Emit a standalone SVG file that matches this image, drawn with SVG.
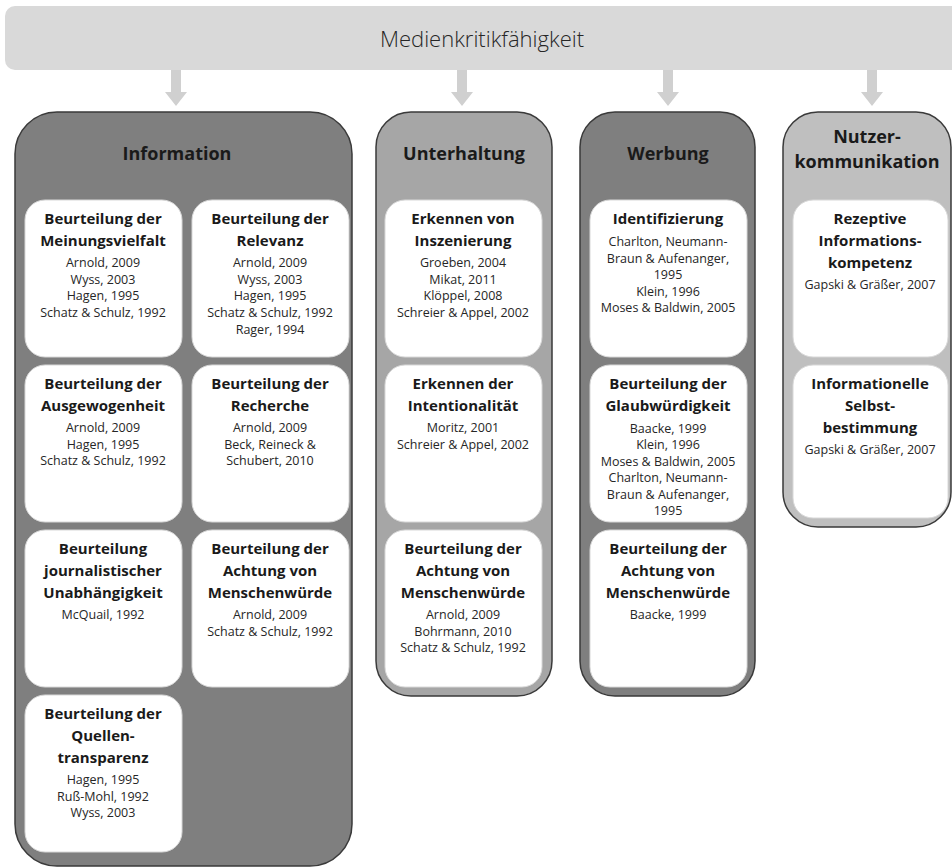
<svg xmlns="http://www.w3.org/2000/svg" width="952" height="868" viewBox="0 0 952 868">
<defs>
<style>
.banner{fill:#d9d9d9;}
.arrow{fill:#d0d0d0;}
.col{stroke:#3a3a3a;stroke-width:1.5;}
.dark{fill:#7f7f7f;}
.mid{fill:#a6a6a6;}
.light{fill:#bfbfbf;}
.box{fill:#ffffff;stroke:#d8d8d8;stroke-width:1;}
text{font-family:"Open Sans","Liberation Sans",sans-serif;text-anchor:middle;fill:#1a1a1a;}
.h{font-size:22px;font-weight:300;fill:#262626;}
.ct{font-size:18px;font-weight:bold;}
.t{font-size:15px;font-weight:bold;}
.r{font-size:12.5px;fill:#262626;}
</style>
</defs>
<rect x="0" y="0" width="952" height="868" fill="#ffffff"/>
<g id="banner">
<rect class="banner" x="5" y="6" width="960" height="64" rx="10"/>
<text class="h" x="482" y="47">Medienkritikfähigkeit</text>
</g>
<g id="connectors">
<polygon class="arrow" points="171,70 181,70 181,92 187,92 176,106 165,92 171,92"/>
<polygon class="arrow" points="457,70 467,70 467,92 473,92 462,106 451,92 457,92"/>
<polygon class="arrow" points="663,70 673,70 673,92 679,92 668,106 657,92 663,92"/>
<polygon class="arrow" points="867,70 877,70 877,92 883,92 872,106 861,92 867,92"/>
</g>
<g id="information">
<rect class="col dark" x="15" y="112" width="337" height="754" rx="42"/>
<text class="ct" x="177" y="160">Information</text>
</g>
<g id="info-meinungsvielfalt">
<rect class="box" x="25" y="200" width="157" height="157" rx="20"/>
<text class="t" x="103" y="224">Beurteilung der</text>
<text class="t" x="103" y="246">Meinungsvielfalt</text>
<text class="r" x="103" y="267">Arnold, 2009</text>
<text class="r" x="103" y="284">Wyss, 2003</text>
<text class="r" x="103" y="300">Hagen, 1995</text>
<text class="r" x="103" y="317">Schatz &amp; Schulz, 1992</text>
</g>
<g id="info-relevanz">
<rect class="box" x="192" y="200" width="157" height="157" rx="20"/>
<text class="t" x="270" y="224">Beurteilung der</text>
<text class="t" x="270" y="246">Relevanz</text>
<text class="r" x="270" y="267">Arnold, 2009</text>
<text class="r" x="270" y="284">Wyss, 2003</text>
<text class="r" x="270" y="300">Hagen, 1995</text>
<text class="r" x="270" y="317">Schatz &amp; Schulz, 1992</text>
<text class="r" x="270" y="334">Rager, 1994</text>
</g>
<g id="info-ausgewogenheit">
<rect class="box" x="25" y="365" width="157" height="157" rx="20"/>
<text class="t" x="103" y="389">Beurteilung der</text>
<text class="t" x="103" y="411">Ausgewogenheit</text>
<text class="r" x="103" y="432">Arnold, 2009</text>
<text class="r" x="103" y="449">Hagen, 1995</text>
<text class="r" x="103" y="465">Schatz &amp; Schulz, 1992</text>
</g>
<g id="info-recherche">
<rect class="box" x="192" y="365" width="157" height="157" rx="20"/>
<text class="t" x="270" y="389">Beurteilung der</text>
<text class="t" x="270" y="411">Recherche</text>
<text class="r" x="270" y="432">Arnold, 2009</text>
<text class="r" x="270" y="449">Beck, Reineck &amp;</text>
<text class="r" x="270" y="465">Schubert, 2010</text>
</g>
<g id="info-unabhaengigkeit">
<rect class="box" x="25" y="530" width="157" height="157" rx="20"/>
<text class="t" x="103" y="554">Beurteilung</text>
<text class="t" x="103" y="576">journalistischer</text>
<text class="t" x="103" y="598">Unabhängigkeit</text>
<text class="r" x="103" y="619">McQuail, 1992</text>
</g>
<g id="info-menschenwuerde">
<rect class="box" x="192" y="530" width="157" height="157" rx="20"/>
<text class="t" x="270" y="554">Beurteilung der</text>
<text class="t" x="270" y="576">Achtung von</text>
<text class="t" x="270" y="598">Menschenwürde</text>
<text class="r" x="270" y="619">Arnold, 2009</text>
<text class="r" x="270" y="636">Schatz &amp; Schulz, 1992</text>
</g>
<g id="info-quellentransparenz">
<rect class="box" x="25" y="695" width="157" height="157" rx="20"/>
<text class="t" x="103" y="719">Beurteilung der</text>
<text class="t" x="103" y="741">Quellen-</text>
<text class="t" x="103" y="763">transparenz</text>
<text class="r" x="103" y="784">Hagen, 1995</text>
<text class="r" x="103" y="801">Ruß-Mohl, 1992</text>
<text class="r" x="103" y="817">Wyss, 2003</text>
</g>
<g id="unterhaltung">
<rect class="col mid" x="376" y="112" width="176" height="584" rx="35"/>
<text class="ct" x="464" y="160">Unterhaltung</text>
</g>
<g id="unt-inszenierung">
<rect class="box" x="385" y="200" width="157" height="157" rx="20"/>
<text class="t" x="463" y="224">Erkennen von</text>
<text class="t" x="463" y="246">Inszenierung</text>
<text class="r" x="463" y="267">Groeben, 2004</text>
<text class="r" x="463" y="284">Mikat, 2011</text>
<text class="r" x="463" y="300">Klöppel, 2008</text>
<text class="r" x="463" y="317">Schreier &amp; Appel, 2002</text>
</g>
<g id="unt-intentionalitaet">
<rect class="box" x="385" y="365" width="157" height="157" rx="20"/>
<text class="t" x="463" y="389">Erkennen der</text>
<text class="t" x="463" y="411">Intentionalität</text>
<text class="r" x="463" y="432">Moritz, 2001</text>
<text class="r" x="463" y="449">Schreier &amp; Appel, 2002</text>
</g>
<g id="unt-menschenwuerde">
<rect class="box" x="385" y="530" width="157" height="157" rx="20"/>
<text class="t" x="463" y="554">Beurteilung der</text>
<text class="t" x="463" y="576">Achtung von</text>
<text class="t" x="463" y="598">Menschenwürde</text>
<text class="r" x="463" y="619">Arnold, 2009</text>
<text class="r" x="463" y="636">Bohrmann, 2010</text>
<text class="r" x="463" y="652">Schatz &amp; Schulz, 1992</text>
</g>
<g id="werbung">
<rect class="col dark" x="580" y="112" width="175" height="584" rx="35"/>
<text class="ct" x="668" y="160">Werbung</text>
</g>
<g id="wer-identifizierung">
<rect class="box" x="590" y="200" width="157" height="157" rx="20"/>
<text class="t" x="668" y="224">Identifizierung</text>
<text class="r" x="668" y="246">Charlton, Neumann-</text>
<text class="r" x="668" y="263">Braun &amp; Aufenanger,</text>
<text class="r" x="668" y="279">1995</text>
<text class="r" x="668" y="296">Klein, 1996</text>
<text class="r" x="668" y="312">Moses &amp; Baldwin, 2005</text>
</g>
<g id="wer-glaubwuerdigkeit">
<rect class="box" x="590" y="365" width="157" height="157" rx="20"/>
<text class="t" x="668" y="389">Beurteilung der</text>
<text class="t" x="668" y="411">Glaubwürdigkeit</text>
<text class="r" x="668" y="432.5">Baacke, 1999</text>
<text class="r" x="668" y="449">Klein, 1996</text>
<text class="r" x="668" y="465.5">Moses &amp; Baldwin, 2005</text>
<text class="r" x="668" y="482">Charlton, Neumann-</text>
<text class="r" x="668" y="498.5">Braun &amp; Aufenanger,</text>
<text class="r" x="668" y="515">1995</text>
</g>
<g id="wer-menschenwuerde">
<rect class="box" x="590" y="530" width="157" height="157" rx="20"/>
<text class="t" x="668" y="554">Beurteilung der</text>
<text class="t" x="668" y="576">Achtung von</text>
<text class="t" x="668" y="598">Menschenwürde</text>
<text class="r" x="668" y="619">Baacke, 1999</text>
</g>
<g id="nutzerkommunikation">
<rect class="col light" x="783" y="112" width="168" height="415" rx="35"/>
<text class="ct" x="867" y="143">Nutzer-</text>
<text class="ct" x="867" y="168">kommunikation</text>
</g>
<g id="nk-rezeptive">
<rect class="box" x="793" y="200" width="155" height="157" rx="20"/>
<text class="t" x="870" y="224">Rezeptive</text>
<text class="t" x="870" y="246">Informations-</text>
<text class="t" x="870" y="268">kompetenz</text>
<text class="r" x="870" y="289">Gapski &amp; Gräßer, 2007</text>
</g>
<g id="nk-selbstbestimmung">
<rect class="box" x="793" y="365" width="155" height="153" rx="20"/>
<text class="t" x="870" y="389">Informationelle</text>
<text class="t" x="870" y="411">Selbst-</text>
<text class="t" x="870" y="433">bestimmung</text>
<text class="r" x="870" y="454">Gapski &amp; Gräßer, 2007</text>
</g>
</svg>
